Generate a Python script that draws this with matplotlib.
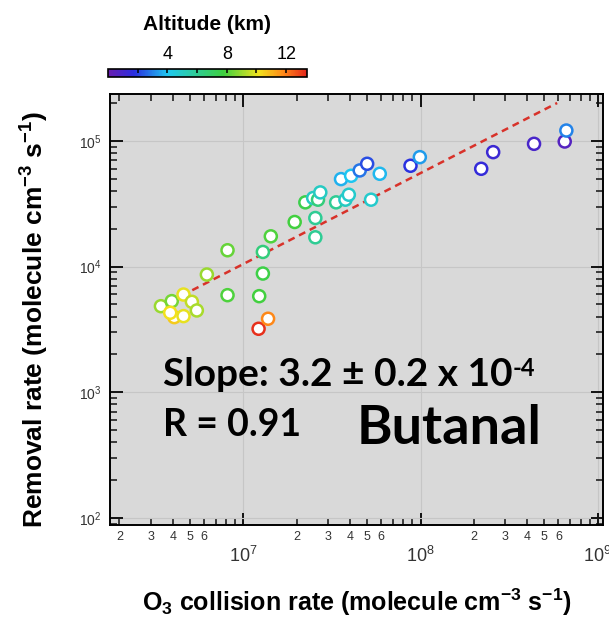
import numpy as np
import matplotlib
matplotlib.use('Agg')
import matplotlib.pyplot as plt
import matplotlib.ticker as mtick
from matplotlib.colors import LinearSegmentedColormap, Normalize
from matplotlib.cm import ScalarMappable

# O3 collision rate (x), removal rate (y), altitude (km)
o3_rate = [3.43e6, 3.95e6, 4.60e6, 4.08e6, 4.60e6, 5.13e6, 5.47e6, 3.87e6, 6.23e6, 8.15e6,
           8.15e6, 1.22e7, 1.38e7, 1.23e7, 1.29e7, 1.29e7, 1.43e7, 1.95e7, 2.24e7, 2.55e7,
           2.55e7, 2.48e7, 2.64e7, 2.72e7, 3.34e7, 3.77e7, 3.94e7, 3.56e7, 4.06e7, 4.54e7,
           5.00e7, 5.89e7, 5.26e7, 8.78e7, 9.91e7, 2.20e8, 2.57e8, 4.37e8, 6.51e8, 6.65e8]
removal = [4840, 5310, 5990, 3960, 4035, 5245, 4475, 4290, 8640, 13480,
           5920, 3200, 3845, 5815, 8800, 13070, 17400, 22620, 32410, 24330,
           17090, 35080, 34030, 38900, 32410, 34030, 37270, 49630, 52730, 58160,
           65700, 54710, 34030, 63360, 74200, 59950, 81300, 94700, 98800, 120800]
altitude = [9.0, 8.5, 10.0, 10.6, 10.0, 9.5, 9.2, 10.2, 9.0, 8.3,
            8.0, 13.2, 11.8, 7.8, 7.6, 6.5, 8.0, 7.8, 7.5, 6.0,
            6.0, 5.0, 6.5, 5.0, 6.0, 5.0, 4.8, 3.7, 4.0, 2.8,
            2.2, 3.8, 4.8, 1.8, 3.4, 1.5, 1.3, 0.9, 0.6, 3.0]

# fitted line end points
fit_x = [3.4e6, 5.9e8]
fit_y = [4.8e3, 2.0e5]

slope_txt = 'Slope: 3.2 \u00b1 0.2 x 10'
slope_exp = '-4'
r_txt = 'R = 0.91'
name_txt = 'Butanal'

plt.rcParams['font.family'] = ['Liberation Sans', 'DejaVu Sans']
plt.rcParams['mathtext.fontset'] = 'custom'
plt.rcParams['mathtext.rm'] = 'Liberation Sans'
plt.rcParams['mathtext.bf'] = 'Liberation Sans:bold'
plt.rcParams['mathtext.default'] = 'regular'

cmap = LinearSegmentedColormap.from_list('alt', [
    (0.0, '#6a1db0'), (0.13, '#2a2ee0'), (0.30, '#1ec8f0'),
    (0.58, '#3ed040'), (0.76, '#f2e21e'), (0.88, '#ff8a18'), (1.0, '#e4261c')])
norm = Normalize(vmin=0, vmax=13.4)

fig = plt.figure(figsize=(6.09, 6.19), dpi=100)
ax = fig.add_axes([0.1806, 0.1519, 0.8095, 0.6963])
ax.set_facecolor('#d9d9d9')

ax.set_xscale('log')
ax.set_yscale('log')
ax.set_xlim(1.77e6, 1.07e9)
ax.set_ylim(88, 2.36e5)

ax.grid(True, which='major', color='#c6c6c6', lw=0.8, zorder=0)
ax.set_axisbelow(True)

ax.plot(fit_x, fit_y, ls=(0, (2.8, 2.0)), color='#d8322a', lw=1.8, zorder=2)
ax.scatter(o3_rate, removal, s=75, facecolors='white',
           edgecolors=cmap(norm(np.array(altitude))), linewidths=1.8, zorder=3)

for sp in ax.spines.values():
    sp.set_linewidth(1.4)

ax.xaxis.set_major_locator(mtick.LogLocator(base=10, numticks=10))
ax.xaxis.set_minor_locator(mtick.LogLocator(base=10, subs=np.arange(2, 10), numticks=20))
ax.yaxis.set_major_locator(mtick.LogLocator(base=10, numticks=10))
ax.yaxis.set_minor_locator(mtick.LogLocator(base=10, subs=np.arange(2, 10), numticks=20))

def minor_fmt(v, pos):
    m = v / 10 ** np.floor(np.log10(v) + 1e-9)
    m = int(round(m))
    return str(m) if m in (2, 3, 4, 5, 6) else ''

ax.xaxis.set_minor_formatter(mtick.FuncFormatter(minor_fmt))

ax.tick_params(which='both', direction='in', top=True, right=True, color='#111111')
ax.tick_params(which='major', length=9, width=1.4)
ax.tick_params(which='minor', length=5, width=1.1)
ax.tick_params(axis='x', which='major', labelsize=13, pad=15, labelcolor='#333333')
ax.tick_params(axis='x', which='minor', labelsize=9, pad=4, labelcolor='#333333')
ax.tick_params(axis='y', which='major', labelsize=10, pad=6, labelcolor='#333333')

ax.set_xlabel(r'O$_\mathbf{3}$ collision rate (molecule cm$^{\mathbf{-3}}$ s$^{\mathbf{-1}}$)',
              fontsize=18, fontweight='bold', labelpad=15)
ax.set_ylabel(r'Removal rate (molecule cm$^{\mathbf{-3}}$ s$^{\mathbf{-1}}$)',
              fontsize=19, fontweight='bold')
ax.yaxis.set_label_coords(-0.12, 0.476)

t1 = ax.text(0.1075, 0.322, slope_txt, transform=ax.transAxes, fontsize=28,
             fontweight='bold', family='Lato', va='baseline', ha='left')
ax.annotate(slope_exp, xy=(1.0, 1.0), xycoords=t1, va='top', ha='left',
            fontsize=17, fontweight='bold', family='Lato')
ax.text(0.1075, 0.206, r_txt, transform=ax.transAxes, fontsize=27,
        fontweight='bold', family='Lato', va='baseline', ha='left')
ax.text(0.501, 0.188, name_txt, transform=ax.transAxes, fontsize=39,
        fontweight='bold', family='Lato', va='baseline', ha='left')

cax = fig.add_axes([0.1773, 0.8756, 0.3268, 0.0129])
cb = fig.colorbar(ScalarMappable(norm=norm, cmap=cmap), cax=cax, orientation='horizontal')
cb.outline.set_linewidth(1.2)
cax.xaxis.set_ticks_position('top')
cax.xaxis.set_label_position('top')
cb.set_ticks([4, 8, 12])
cax.xaxis.set_minor_locator(mtick.FixedLocator([2, 6, 10]))
cax.tick_params(which='both', direction='in', length=3, width=1.1, labelsize=13, pad=4)
cb.set_label('Altitude (km)', fontsize=15, fontweight='bold', labelpad=12)

fig.savefig('out.png', dpi=100)
